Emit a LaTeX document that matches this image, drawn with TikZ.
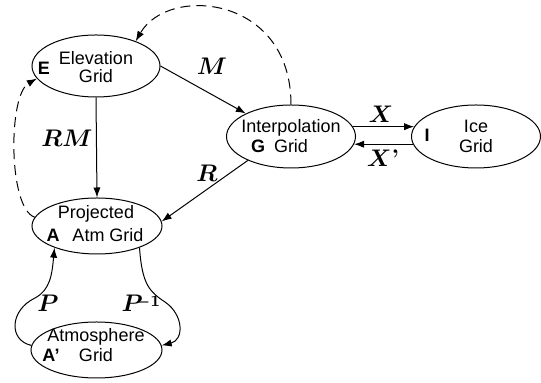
\documentclass[tikz,border=0pt]{standalone}
\usepackage[no-math]{fontspec}
\setmainfont{Liberation Sans}
\usetikzlibrary{shapes.geometric,arrows.meta}
\begin{document}
\begin{tikzpicture}[x=0.5pt,y=-0.5pt,
  gridnode/.style={ellipse, draw, line width=0.5pt, inner sep=0pt},
  lbl/.style={font=\fontsize{9}{10}\selectfont, inner sep=0pt, anchor=base},
  tag/.style={font=\fontsize{9}{10}\selectfont\bfseries, inner sep=0pt, anchor=base},
  op/.style={font=\fontsize{11.5}{12}\selectfont\boldmath, inner sep=0pt, anchor=base},
  conn/.style={line width=0.5pt, -{Latex[length=5pt,width=3.6pt]}},
  back/.style={conn, dash pattern=on 5pt off 3pt}]
\useasboundingbox (0,0) rectangle (541,383);

% ellipses
\node[gridnode, minimum width=64pt, minimum height=31pt] (E) at (96,66) {};
\node[gridnode, minimum width=64.5pt, minimum height=31.5pt] (G) at (291,136.5) {};
\node[gridnode, minimum width=64.5pt, minimum height=31.5pt] (I) at (476,136.5) {};
\node[gridnode, minimum width=65pt, minimum height=28pt] (A) at (97,226) {};
\node[gridnode, minimum width=65.5pt, minimum height=28pt] (AP) at (96.5,350) {};

% texts
\node[lbl] (tE1) at (96,65) {Elevation};
\node[lbl] (tE2) at (96,83) {Grid};
\node[tag] (kE) at (44,75) {E};

\node[lbl] (tG1) at (291,133) {Interpolation};
\node[lbl] (tG2) at (291,153) {Grid};
\node[tag] (kG) at (258,153) {G};

\node[lbl] (tI1) at (476,133) {Ice};
\node[lbl] (tI2) at (476,153) {Grid};
\node[tag] (kI) at (427,142) {I};

\node[lbl] (tA1) at (96,219) {Projected};
\node[lbl] (tA2) at (108,242) {Atm Grid};
\node[tag] (kA) at (53,242) {A};

\node[lbl] (tP1) at (96,342) {Atmosphere};
\node[lbl] (tP2) at (96,362) {Grid};
\node[tag] (kP) at (51,362) {A'};

% operator labels
\node[op] (lM) at (212,75) {$M$};
\node[op] (lRM) at (67,147) {$RM$};
\node[op] (lR) at (207,182) {$R$};
\node[op] (lX) at (381,123) {$X$};
\node[op] (lXp) at (383,167) {$X\mathchar"0027$};
\node[op] (lP) at (48,312) {$P$};
\node[op] (lPi) at (141,312) {$P\mkern-5mu\raisebox{2.5pt}{$\scriptstyle -1$}$};

% connectors
\draw[conn] (E.east) -- (G.153);
\draw[conn] (E.south) -- (A.north);
\draw[conn] (G.209) -- (A.4);
\draw[conn] (G.9) -- (I.171);
\draw[conn] (I.187) -- (G.-7);
\draw[back] (G.north) .. controls (291,-5) and (168,-15) .. (E.32);
\draw[back] (A.172) .. controls (8,208) and (8,95) .. (E.192);
\draw[conn] (AP.176) .. controls (8,340) and (10,310) .. (35,298)
            .. controls (50,290) and (52,275) .. (A.207);
\draw[conn] (A.-27) .. controls (142,285) and (150,292) .. (165,302)
            .. controls (184,315) and (184,340) .. (AP.4);
\end{tikzpicture}
\end{document}
